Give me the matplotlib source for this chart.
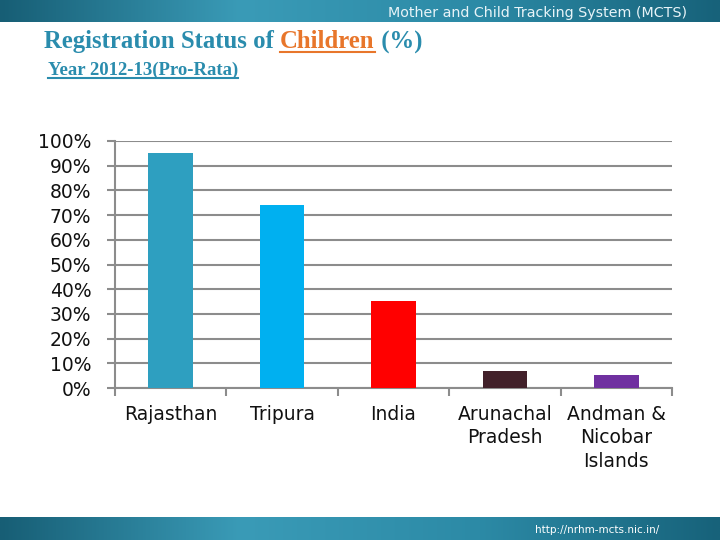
import numpy as np
import matplotlib
matplotlib.use("Agg")
import matplotlib.pyplot as plt
from matplotlib.ticker import PercentFormatter
from matplotlib.colors import LinearSegmentedColormap

states = ["Rajasthan", "Tripura", "India", "Arunachal\nPradesh", "Andman &\nNicobar\nIslands"]
values = [95.1, 74.1, 35.2, 6.9, 5.3]
colors = ["#2E9FC0", "#00B0F0", "#FF0000", "#42212A", "#7030A0"]

W, H = 720, 540
fig = plt.figure(figsize=(7.2, 5.4), dpi=100)

# banners top and bottom
band = LinearSegmentedColormap.from_list("band", ["#175E75", "#3A9BB7", "#2C8AA6", "#17627A"])
grad = np.linspace(0, 1, 256).reshape(1, -1)
top = fig.add_axes([0, 1 - 22 / H, 1, 22 / H])
top.imshow(grad, aspect="auto", cmap=band)
top.axis("off")
bot = fig.add_axes([0, 0, 1, 23 / H])
bot.imshow(grad, aspect="auto", cmap=band)
bot.axis("off")

fig.text(687 / W, 1 - 13 / H, "Mother and Child Tracking System (MCTS)", ha="right", va="center",
         color="#E8F4F8", fontsize=10.3, family="DejaVu Sans")
fig.text(597 / W, 10 / H, "http://nrhm-mcts.nic.in/", ha="center", va="center",
         color="white", fontsize=7.5, family="Liberation Sans Narrow")

# title pieces with underline
fig.canvas.draw()
r = fig.canvas.get_renderer()
teal = "#2A8CAD"
x0 = 44
parts = [("Registration Status of ", teal, False), ("Children", "#E8762B", True), (" (%)", teal, False)]
for s, c, ul in parts:
    t = fig.text(x0 / W, 1 - 42 / H, s, color=c, fontsize=17.8, fontweight="bold",
                 family="Liberation Serif", va="center", ha="left")
    bb = t.get_window_extent(r)
    if ul:
        fig.add_artist(plt.Line2D([bb.x0 / W, bb.x1 / W], [(bb.y0 + 1) / H] * 2, color=c, lw=1.5))
    x0 = bb.x1
t = fig.text(44 / W, 1 - 70 / H, " Year 2012-13(Pro-Rata)", color=teal, fontsize=13.5, fontweight="bold",
             family="Liberation Serif", va="center", ha="left")
bb = t.get_window_extent(r)
fig.add_artist(plt.Line2D([bb.x0 / W + 0.005, bb.x1 / W], [(bb.y0 + 1) / H] * 2, color=teal, lw=1.5))

# chart
ax = fig.add_axes([115 / W, (540 - 388) / H, 557 / W, 247 / H])
x = np.arange(len(states))
ax.bar(x, values, width=0.4, color=colors, zorder=3)
ax.set_xlim(-0.5, len(states) - 0.5)
ax.set_ylim(0, 100)
ax.set_yticks(np.arange(0, 101, 10))
ax.yaxis.set_major_formatter(PercentFormatter(decimals=0))
ax.yaxis.grid(True, color="#8C8C8C", lw=1.5, zorder=0)
for s in ["top", "right"]:
    ax.spines[s].set_visible(False)
for s in ["left", "bottom"]:
    ax.spines[s].set_color("#8C8C8C")
    ax.spines[s].set_linewidth(1.5)
ax.tick_params(axis="y", length=6, width=1.5, color="#8C8C8C", labelsize=13.5, pad=11)
ax.set_xticks(x)
ax.set_xticklabels(states, fontsize=13.5, linespacing=1.3)
ax.tick_params(axis="x", length=0, pad=12)
ax.set_xticks(np.arange(-0.5, len(states), 1), minor=True)
ax.tick_params(axis="x", which="minor", length=6, width=1.5, color="#8C8C8C")
for lab in ax.get_xticklabels() + ax.get_yticklabels():
    lab.set_family("DejaVu Sans")
    lab.set_color("#111111")

fig.savefig("out.png", dpi=100)
